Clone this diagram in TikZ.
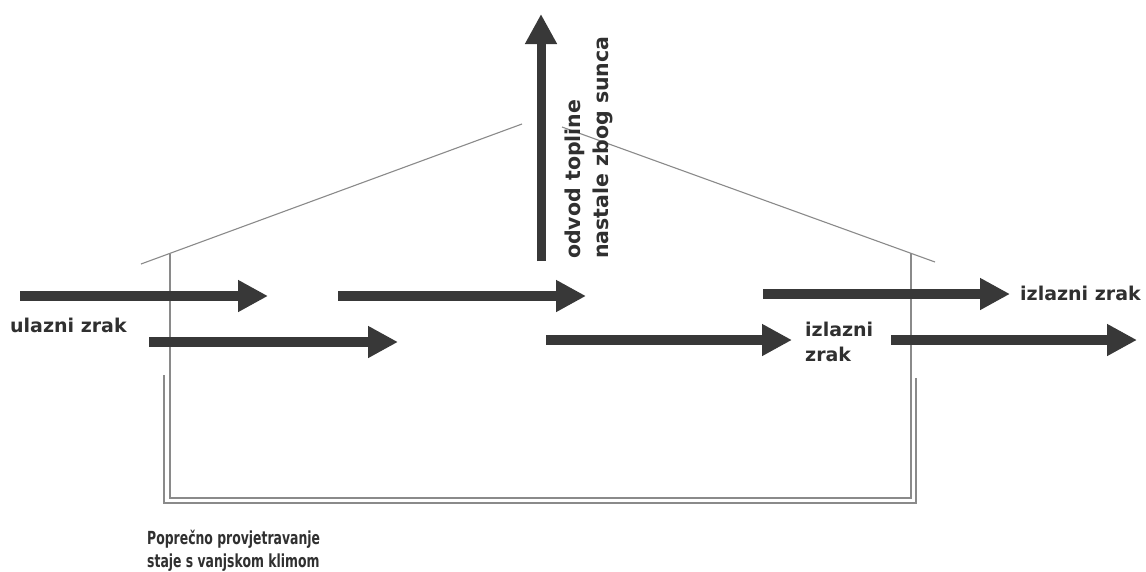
\documentclass[tikz,border=0pt]{standalone}
\usepackage{fontspec}
\usetikzlibrary{arrows.meta}
\newfontfamily\lblfont{DejaVu Sans}
\definecolor{arrowc}{HTML}{383838}
\definecolor{textc}{HTML}{303030}
\definecolor{linec}{HTML}{8A8A8A}
\newcommand{\capline}[1]{\scalebox{0.69}[1]{#1}}
\begin{document}
\begin{tikzpicture}[x=1pt,y=-1pt,
  flow/.style={draw=arrowc, line width=10pt, -{Triangle[length=30pt,width=30pt]}},
  wall/.style={draw=linec, line width=1.1pt},
  lbl/.style={inner sep=0pt, text=textc, font=\lblfont\bfseries\fontsize{19}{23}\selectfont},
  vlbl/.style={inner sep=0pt, text=textc, font=\lblfont\bfseries\fontsize{20.5}{24}\selectfont},
  captxt/.style={inner sep=0pt, text=textc, font=\lblfont\bfseries\fontsize{18}{23}\selectfont}]
\useasboundingbox[fill=white] (0,0) rectangle (1146,571);

% roof
\draw[wall] (141,264) -- (522,124);
\draw[wall] (562,127) -- (935,262);
% walls
\draw[wall] (170,253.5) -- (170,498) -- (911,498) -- (911,253);
\draw[wall] (164,375) -- (164,503) -- (916,503) -- (916,378);

% arrow coordinates
\coordinate (a1s) at (20,296);  \coordinate (a1e) at (268,296);
\coordinate (a2s) at (338,296); \coordinate (a2e) at (586,296);
\coordinate (a3s) at (149,342); \coordinate (a3e) at (398,342);
\coordinate (a4s) at (546,340); \coordinate (a4e) at (792,340);
\coordinate (a5s) at (763,294); \coordinate (a5e) at (1010,294);
\coordinate (a6s) at (891,340); \coordinate (a6e) at (1137,340);
\coordinate (vs) at (541,261);  \coordinate (ve) at (541,14);

\draw[flow] (a1s) -- (a1e);
\draw[flow] (a2s) -- (a2e);
\draw[flow] (a3s) -- (a3e);
\draw[flow] (a4s) -- (a4e);
\draw[flow] (a5s) -- (a5e);
\draw[flow] (a6s) -- (a6e);
\draw[flow, line width=9pt] (vs) -- (ve);

% labels
\node[lbl, anchor=base west] (ulaz) at (10,332) {ulazni zrak};
\node[lbl, anchor=base west] (izlaz1) at (1020,300) {izlazni zrak};
\node[lbl, anchor=base west] (izlaz2a) at (805,336) {izlazni};
\node[lbl, anchor=base west] (izlaz2b) at (805,361) {zrak};
\node[vlbl, anchor=base west, rotate=90] (odvod1) at (580,259) {odvod topline};
\node[vlbl, anchor=base west, rotate=90] (odvod2) at (608,259) {nastale zbog sunca};
\node[captxt, anchor=base west] (cap1) at (147,544) {\capline{Poprečno provjetravanje}};
\node[captxt, anchor=base west] (cap2) at (147,567) {\capline{staje s vanjskom klimom}};
\end{tikzpicture}
\end{document}
